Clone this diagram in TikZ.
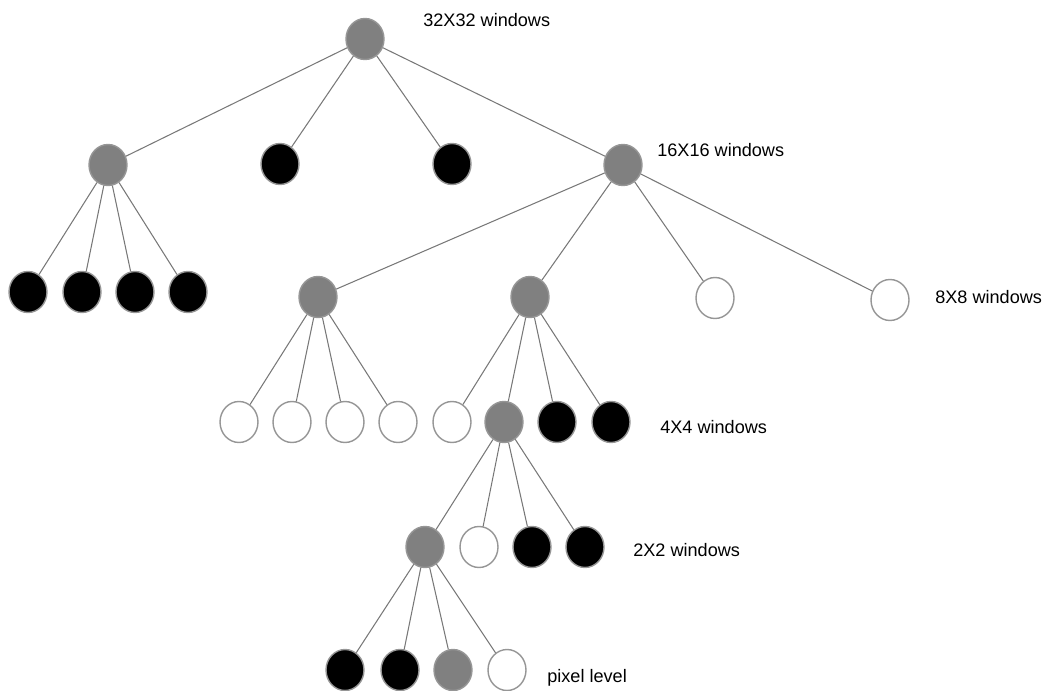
\documentclass[tikz,border=0pt]{standalone}
\definecolor{quadGray}{RGB}{128,128,128}
\definecolor{quadRim}{RGB}{150,150,150}
\definecolor{quadEdge}{RGB}{120,120,120}
\usepackage{fontspec}
\setmainfont{Liberation Sans}
\usepackage{tikz}
\usetikzlibrary{positioning,shapes.geometric}

\begin{document}
\begin{tikzpicture}[
  x=0.02cm, y=-0.02cm,
  cell/.style={ellipse, draw=quadRim, line width=0.8pt, inner sep=0pt,
               minimum width=0.76cm, minimum height=0.82cm},
  mixed/.style={cell, fill=quadGray},
  full/.style={cell, fill=black},
  empty/.style={cell, fill=white},
  lvl/.style={anchor=west, inner sep=0pt, font=\fontsize{10.3}{12}\selectfont},
  edge/.style={draw=quadEdge, line width=0.6pt}
]
  \useasboundingbox (0,0) rectangle (1051,690);

  % 32x32
  \node[mixed] (w32) at (365,39) {};
  \node[lvl] (t32) at (423,20) {32X32 windows};

  % 16x16
  \node[mixed] (w16a) at (108,165) {};
  \node[full]  (w16b) at (280,164) {};
  \node[full]  (w16c) at (452,164) {};
  \node[mixed] (w16d) at (623,165) {};
  \node[lvl] (t16) at (657,150) {16X16 windows};

  % 8x8
  \node[full]  (w8a) at (28,292) {};
  \node[full]  (w8b) at (82,292) {};
  \node[full]  (w8c) at (135,292) {};
  \node[full]  (w8d) at (188,292) {};
  \node[mixed] (w8e) at (318,297) {};
  \node[mixed] (w8f) at (530,297) {};
  \node[empty] (w8g) at (715,298) {};
  \node[empty] (w8h) at (890,300) {};
  \node[lvl] (t8) at (935,297) {8X8 windows};

  % 4x4
  \node[empty] (w4a) at (239,422) {};
  \node[empty] (w4b) at (292,422) {};
  \node[empty] (w4c) at (345,422) {};
  \node[empty] (w4d) at (398,422) {};
  \node[empty] (w4e) at (452,422) {};
  \node[mixed] (w4f) at (504,422) {};
  \node[full]  (w4g) at (557,422) {};
  \node[full]  (w4h) at (611,422) {};
  \node[lvl] (t4) at (660,427) {4X4 windows};

  % 2x2
  \node[mixed] (w2a) at (425,547) {};
  \node[empty] (w2b) at (479,547) {};
  \node[full]  (w2c) at (532,547) {};
  \node[full]  (w2d) at (585,547) {};
  \node[lvl] (t2) at (633,550) {2X2 windows};

  % pixels
  \node[full]  (p1) at (345,670) {};
  \node[full]  (p2) at (400,670) {};
  \node[mixed] (p3) at (453,670) {};
  \node[empty] (p4) at (507,670) {};
  \node[lvl] (tp) at (547,678) {pixel level};

  \draw[edge] (w32) -- (w16a);
  \draw[edge] (w32) -- (w16b);
  \draw[edge] (w32) -- (w16c);
  \draw[edge] (w32) -- (w16d);

  \draw[edge] (w16a) -- (w8a);
  \draw[edge] (w16a) -- (w8b);
  \draw[edge] (w16a) -- (w8c);
  \draw[edge] (w16a) -- (w8d);
  \draw[edge] (w16d) -- (w8e);
  \draw[edge] (w16d) -- (w8f);
  \draw[edge] (w16d) -- (w8g);
  \draw[edge] (w16d) -- (w8h);

  \draw[edge] (w8e) -- (w4a);
  \draw[edge] (w8e) -- (w4b);
  \draw[edge] (w8e) -- (w4c);
  \draw[edge] (w8e) -- (w4d);
  \draw[edge] (w8f) -- (w4e);
  \draw[edge] (w8f) -- (w4f);
  \draw[edge] (w8f) -- (w4g);
  \draw[edge] (w8f) -- (w4h);

  \draw[edge] (w4f) -- (w2a);
  \draw[edge] (w4f) -- (w2b);
  \draw[edge] (w4f) -- (w2c);
  \draw[edge] (w4f) -- (w2d);

  \draw[edge] (w2a) -- (p1);
  \draw[edge] (w2a) -- (p2);
  \draw[edge] (w2a) -- (p3);
  \draw[edge] (w2a) -- (p4);
\end{tikzpicture}
\end{document}
